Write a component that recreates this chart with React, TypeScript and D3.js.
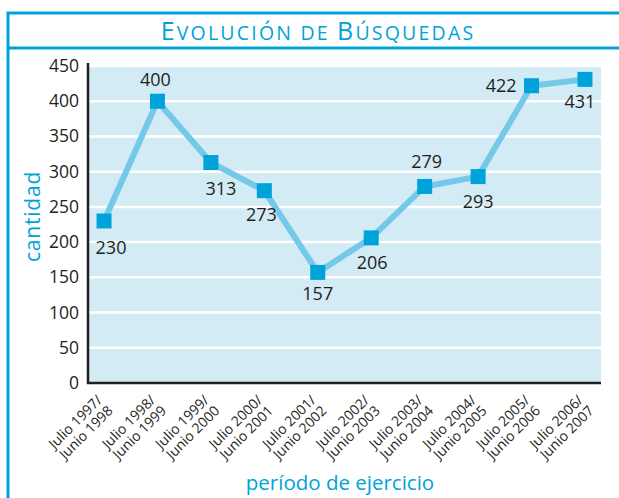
import * as d3 from 'd3'

const periods = [
  ['Julio 1997/', 'Junio 1998'],
  ['Julio 1998/', 'Junio 1999'],
  ['Julio 1999/', 'Junio 2000'],
  ['Julio 2000/', 'Junio 2001'],
  ['Julio 2001/', 'Junio 2002'],
  ['Julio 2002/', 'Junio 2003'],
  ['Julio 2003/', 'Junio 2004'],
  ['Julio 2004/', 'Junio 2005'],
  ['Julio 2005/', 'Junio 2006'],
  ['Julio 2006/', 'Junio 2007'],
]
const searches = [230, 400, 313, 273, 157, 206, 279, 293, 422, 431]
const yTicks = [0, 50, 100, 150, 200, 250, 300, 350, 400, 450]

// label placement relative to each point: [dx, dy, anchor]
const labelPos: [number, number, string][] = [
  [7, 33, 'middle'],
  [-2, -15, 'middle'],
  [10, 32, 'middle'],
  [-3, 30, 'middle'],
  [0, 28, 'middle'],
  [1, 31, 'middle'],
  [2, -18, 'middle'],
  [0, 31, 'middle'],
  [-15, 6, 'end'],
  [-5, 29, 'middle'],
]

const W = 619
const H = 498
const blue = '#00a3d9'
const lineBlue = '#74c8e8'
const ink = '#231f20'
const font = '"Open Sans", "Noto Sans", sans-serif'

export default function App() {
  const left = 88
  const right = 601
  const top = 66
  const bottom = 383

  const x = d3.scalePoint<number>().domain(d3.range(periods.length)).range([left, right]).padding(0.3)
  const y = d3.scaleLinear().domain([0, 450]).range([bottom, top])

  const line = d3.line<number>()
    .x((_, i) => x(i)!)
    .y(d => y(d))

  const sq = 15

  return (
    <div style={{ position: 'absolute', left: 0, top: 0 }}>
      <svg width={W} height={H} style={{ display: 'block', background: '#fff' }} fontFamily={font}>
        {/* frame */}
        <rect x={8} y={13} width={700} height={600} fill="none" stroke={blue} strokeWidth={3} />
        <line x1={8} x2={W} y1={48} y2={48} stroke={blue} strokeWidth={3} />
        <text x={318} y={40} textAnchor="middle" fill={blue} letterSpacing={2.2}>
          <tspan fontSize={25}>E</tspan>
          <tspan fontSize={19.5}>VOLUCIÓN DE </tspan>
          <tspan fontSize={25}>B</tspan>
          <tspan fontSize={19.5}>ÚSQUEDAS</tspan>
        </text>

        {/* plot background and grid */}
        <rect x={left} y={y(450) - 1} width={right - left} height={bottom - y(450) + 1} fill="#d3ebf5" />
        {yTicks.filter(t => t > 0).map(t => (
          <line key={t} x1={left} x2={right} y1={y(t)} y2={y(t)} stroke="#fff" strokeWidth={2.5} />
        ))}

        {/* axes */}
        <line x1={left} x2={left} y1={y(450) - 3} y2={bottom + 1} stroke={ink} strokeWidth={2.5} />
        <line x1={left - 1} x2={right} y1={bottom} y2={bottom} stroke={ink} strokeWidth={2.5} />

        {yTicks.map(t => (
          <text key={t} x={79} y={y(t) + 6} textAnchor="end" fontSize={17.5} fill={ink}>{t}</text>
        ))}

        {periods.map((p, i) => (
          <text key={i} transform={`translate(${x(i)! - 1},${bottom + 18}) rotate(-45)`} textAnchor="end" fontSize={14} fill={ink}>
            <tspan x={0} dy={0}>{p[0]}</tspan>
            <tspan x={0} dy={15}>{p[1]}</tspan>
          </text>
        ))}

        <text transform={`translate(40,${(top + bottom) / 2 - 8}) rotate(-90)`} textAnchor="middle" fontSize={21} fill={blue} letterSpacing={0.8}>cantidad</text>
        <text x={340} y={490} textAnchor="middle" fontSize={20.5} fill={blue}>período de ejercicio</text>

        {/* series */}
        <path d={line(searches) ?? ''} fill="none" stroke={lineBlue} strokeWidth={6} strokeLinejoin="round" />
        {searches.map((v, i) => (
          <rect key={i} x={x(i)! - sq / 2} y={y(v) - sq / 2} width={sq} height={sq} fill={blue} />
        ))}
        {searches.map((v, i) => (
          <text key={i} x={x(i)! + labelPos[i][0]} y={y(v) + labelPos[i][1]} textAnchor={labelPos[i][2]} fontSize={18} fill={ink}>{v}</text>
        ))}
      </svg>
    </div>
  )
}
